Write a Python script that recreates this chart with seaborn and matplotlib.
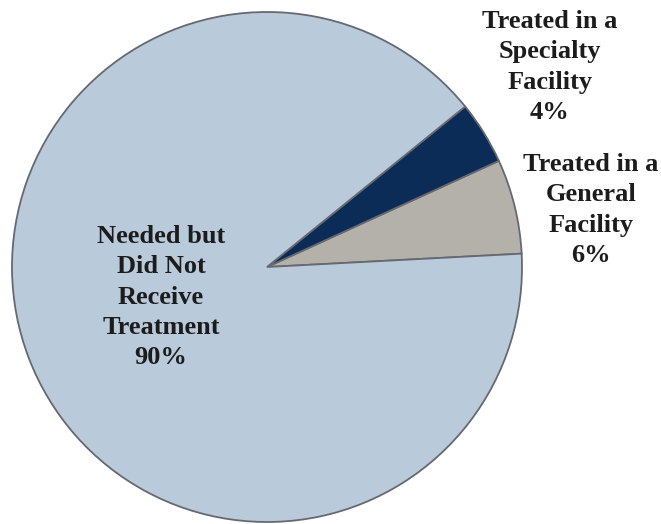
import matplotlib
matplotlib.use("Agg")
import matplotlib.pyplot as plt
import seaborn as sns

categories = ["Treated in a\nGeneral\nFacility", "Treated in a\nSpecialty\nFacility", "Needed but\nDid Not\nReceive\nTreatment"]
values = [6, 4, 90]
colors = ["#b4b1ab", "#0b2c57", "#b9cadb"]
label_pos = [(591, 210), (550, 67), (161, 297)]  # pixel centres of label blocks

sns.set_theme(style="white")
plt.rcParams["font.family"] = ["Liberation Serif", "DejaVu Serif"]

W, H = 661, 524
fig = plt.figure(figsize=(W / 100, H / 100), dpi=100)
ax = fig.add_axes([0, 0, 1, 1])

ax.pie(values, colors=colors, startangle=3, counterclock=True,
       center=(267, H - 267), radius=255,
       wedgeprops=dict(edgecolor="#66696f", linewidth=1.3), frame=True)
ax.set_xlim(0, W)
ax.set_ylim(0, H)
ax.set_aspect("equal")
ax.axis("off")

for cat, v, (px, py) in zip(categories, values, label_pos):
    ax.text(px, H - py, f"{cat}\n{v}%", ha="center", va="center",
            multialignment="center", fontsize=19, fontweight="bold",
            color="#1c1c1c", linespacing=1.4)

fig.savefig("out.png", dpi=100, facecolor="white")
